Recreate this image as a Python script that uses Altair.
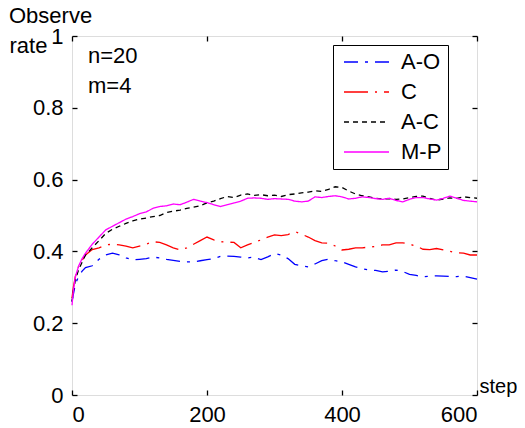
import altair as alt
import pandas as pd

steps = [0, 2, 5, 10, 15, 20] + list(range(30, 601, 10))

series_names = ["A-O", "C", "A-C", "M-P"]
series_colors = ["#0000ff", "#ff0000", "#000000", "#ff00ff"]
series_dashes = [[14, 7, 3, 7], [24, 7, 2, 7], [5, 4], [1, 0]]

a_o = [0.26, 0.28, 0.31, 0.33, 0.345, 0.355, 0.36, 0.378, 0.39, 0.395, 0.39, 0.382,
       0.376, 0.378, 0.38, 0.384, 0.382, 0.378, 0.375, 0.372, 0.371, 0.371, 0.374,
       0.377, 0.38, 0.386, 0.387, 0.386, 0.384, 0.382, 0.384, 0.377, 0.385, 0.394,
       0.39, 0.38, 0.364, 0.36, 0.357, 0.365, 0.374, 0.378, 0.374, 0.371, 0.364,
       0.357, 0.352, 0.348, 0.347, 0.343, 0.345, 0.348, 0.344, 0.336, 0.333, 0.329,
       0.331, 0.332, 0.331, 0.33, 0.33, 0.331, 0.327, 0.323]
c = [0.27, 0.30, 0.33, 0.36, 0.375, 0.39, 0.405, 0.41, 0.418, 0.42, 0.418, 0.415,
     0.41, 0.415, 0.42, 0.427, 0.425, 0.418, 0.41, 0.404, 0.41, 0.42, 0.43, 0.44,
     0.432, 0.427, 0.426, 0.425, 0.41, 0.418, 0.425, 0.432, 0.44, 0.446, 0.444,
     0.447, 0.455, 0.448, 0.44, 0.43, 0.424, 0.423, 0.415, 0.404, 0.406, 0.41,
     0.41, 0.412, 0.414, 0.418, 0.418, 0.424, 0.424, 0.42, 0.415, 0.406, 0.405,
     0.408, 0.404, 0.40, 0.396, 0.395, 0.39, 0.39]
a_c = [0.26, 0.29, 0.32, 0.35, 0.37, 0.39, 0.41, 0.43, 0.45, 0.462, 0.47, 0.478,
       0.485, 0.49, 0.493, 0.497, 0.50, 0.508, 0.512, 0.515, 0.52, 0.523, 0.527,
       0.535, 0.54, 0.547, 0.553, 0.55, 0.557, 0.56, 0.556, 0.558, 0.555, 0.557,
       0.553, 0.558, 0.56, 0.563, 0.565, 0.569, 0.567, 0.573, 0.58, 0.578, 0.568,
       0.56, 0.555, 0.552, 0.548, 0.546, 0.547, 0.545, 0.546, 0.55, 0.553, 0.554,
       0.548, 0.543, 0.546, 0.549, 0.548, 0.552, 0.55, 0.548]
m_p = [0.25, 0.29, 0.33, 0.36, 0.38, 0.395, 0.42, 0.44, 0.46, 0.47, 0.48, 0.49,
       0.497, 0.505, 0.51, 0.52, 0.525, 0.527, 0.532, 0.53, 0.537, 0.545, 0.54,
       0.536, 0.53, 0.525, 0.53, 0.535, 0.54, 0.548, 0.549, 0.548, 0.545, 0.547,
       0.546, 0.545, 0.54, 0.538, 0.54, 0.552, 0.55, 0.553, 0.555, 0.552, 0.546,
       0.548, 0.552, 0.55, 0.547, 0.545, 0.548, 0.542, 0.538, 0.545, 0.55, 0.55,
       0.546, 0.543, 0.548, 0.554, 0.548, 0.542, 0.54, 0.538]

x_ticks = [0, 200, 400, 600]
y_ticks = [0, 0.2, 0.4, 0.6, 0.8, 1]
annotations = ["n=20", "m=4"]
y_title_top = "Observe"
y_title_bottom = "rate"
x_title = "step"

rows = []
for name, vals in zip(series_names, [a_o, c, a_c, m_p]):
    for s, v in zip(steps, vals):
        rows.append({"step": s, "rate": v, "series": name})
df = pd.DataFrame(rows)

W, H = 405, 359
FONT = "Liberation Sans"
FS = 22

xscale = alt.Scale(domain=[0, 600], nice=False, zero=False)
yscale = alt.Scale(domain=[0, 1], nice=False)

legend = alt.Legend(
    orient="none", legendX=261, legendY=9, title=None,
    symbolType="stroke", symbolSize=2025, symbolStrokeWidth=1.3,
    symbolOffset=4, clipHeight=22, rowPadding=8, padding=6,
    strokeColor="black", fillColor="white",
    labelFont=FONT, labelFontSize=FS, labelColor="black", labelOffset=11,
    labelExpr="datum.label + '\u00a0\u00a0\u00a0\u00a0'",
)

lines = alt.Chart(df).mark_line(strokeWidth=1.3).encode(
    x=alt.X("step:Q", scale=xscale, axis=alt.Axis(
        orient="bottom", values=x_ticks, format="d", ticks=False, tickSize=0,
        domain=False, grid=False, labelPadding=9, labelFont=FONT,
        labelFontSize=FS, labelColor="black", title=x_title, titleFont=FONT,
        titleFontSize=20, titleFontWeight="normal", titleColor="black",
        titleAngle=0, titleAlign="left", titleBaseline="alphabetic",
        titleX=W + 2, titleY=-3)),
    y=alt.Y("rate:Q", scale=yscale, axis=alt.Axis(
        orient="left", values=y_ticks, format="~g", ticks=False, tickSize=0,
        domain=False, grid=False, labelPadding=9, labelFont=FONT,
        labelFontSize=FS, labelColor="black", title=y_title_bottom,
        titleFont=FONT, titleFontSize=FS, titleFontWeight="normal",
        titleColor="black", titleAngle=0, titleAlign="left",
        titleBaseline="alphabetic", titleX=-63, titleY=16)),
    color=alt.Color("series:N", scale=alt.Scale(domain=series_names, range=series_colors), legend=legend),
    strokeDash=alt.StrokeDash("series:N", scale=alt.Scale(domain=series_names, range=series_dashes), legend=legend),
)


def tick_layer(x_orient, y_orient):
    return alt.Chart(df).mark_point(opacity=0).encode(
        x=alt.X("step:Q", scale=xscale, axis=alt.Axis(
            orient=x_orient, offset=-H, values=x_ticks, labels=False, domain=False,
            grid=False, ticks=True, tickSize=5, tickColor="black", tickWidth=1.3, title=None)),
        y=alt.Y("rate:Q", scale=yscale, axis=alt.Axis(
            orient=y_orient, offset=-W, values=y_ticks, labels=False, domain=False,
            grid=False, ticks=True, tickSize=5, tickColor="black", tickWidth=1.3, title=None)),
    )


note = alt.Chart(alt.Data(values=[{}])).mark_text(
    text=annotations, lineHeight=30, align="left", baseline="alphabetic",
    font=FONT, fontSize=FS, color="black",
).encode(x=alt.value(16), y=alt.value(27))

ytitle_top = alt.Chart(alt.Data(values=[{}])).mark_text(
    text=y_title_top, align="left", baseline="alphabetic",
    font=FONT, fontSize=FS, color="black",
).encode(x=alt.value(-63), y=alt.value(-13))

chart = alt.layer(
    lines, tick_layer("top", "right"), tick_layer("bottom", "left"), note, ytitle_top
).resolve_axis(x="independent", y="independent").properties(
    width=W, height=H,
    autosize=alt.AutoSizeParams(type="none"),
    padding={"left": 64, "top": 28, "right": 40, "bottom": 33},
).configure_view(stroke="black", strokeWidth=1.5).configure(background="white")

chart.save("out.html", embed_options={"renderer": "svg", "actions": False})
